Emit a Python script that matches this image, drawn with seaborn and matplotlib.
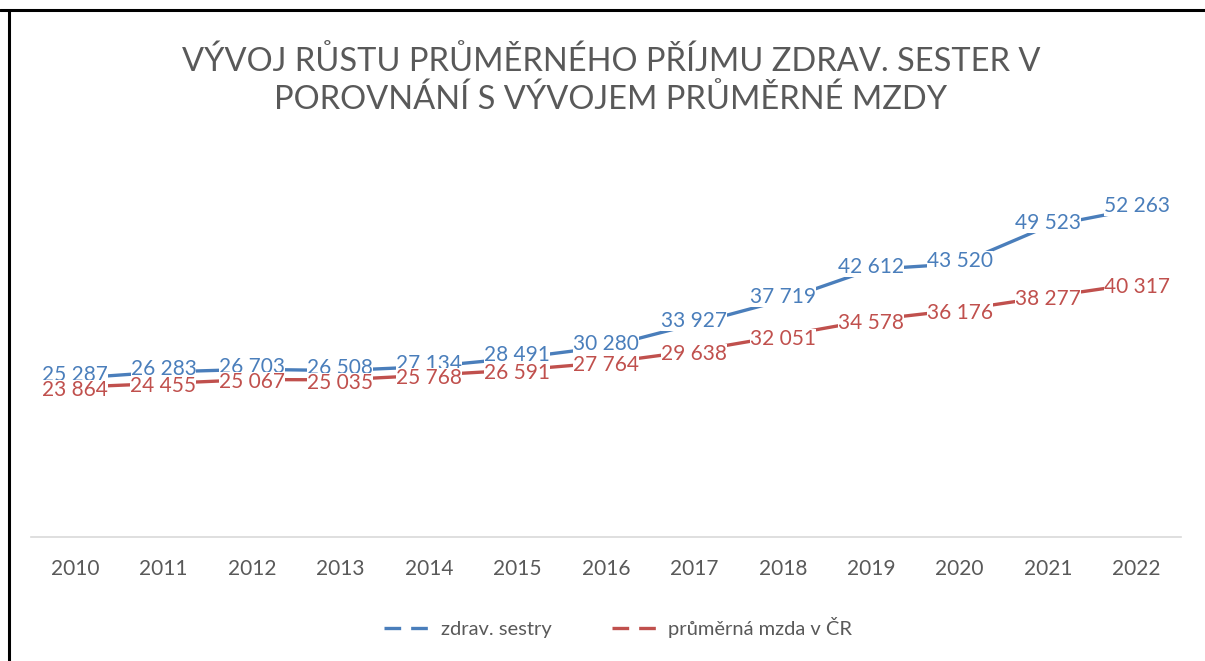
import matplotlib.pyplot as plt
import pandas as pd
import seaborn as sns
from matplotlib.lines import Line2D

sns.set_theme(style='white')
plt.rcParams['font.family'] = ['Lato', 'DejaVu Sans']

years = [2010, 2011, 2012, 2013, 2014, 2015, 2016, 2017, 2018, 2019, 2020, 2021, 2022]
sestry = [25287, 26283, 26703, 26508, 27134, 28491, 30280, 33927, 37719, 42612, 43520, 49523, 52263]
mzda = [23864, 24455, 25067, 25035, 25768, 26591, 27764, 29638, 32051, 34578, 36176, 38277, 40317]
series_names = ['zdrav. sestry', 'průměrná mzda v ČR']
colors = ['#4a7ebb', '#c0504d']

df = pd.DataFrame({'year': years * 2,
                   'value': sestry + mzda,
                   'serie': [series_names[0]] * len(years) + [series_names[1]] * len(years)})

fig = plt.figure(figsize=(12.05, 6.61), dpi=100)
ax = fig.add_axes([0.0255, 0.1876, 0.9545, 0.570])

sns.lineplot(data=df, x='year', y='value', hue='serie', palette=colors,
             linewidth=2.4, ax=ax, legend=False, zorder=2)

# data labels centered on points like Excel, white box cuts the line;
# blue nudged a bit up and red a bit down so the crowded ones stay readable
for vals, c, dy in zip([sestry, mzda], colors, [2, -2]):
    for x, v in zip(years, vals):
        lab = f'{v:,}'.replace(',', ' ')
        ax.annotate(lab, (x, v), xytext=(0, dy), textcoords='offset points',
                    ha='center', va='center', fontsize=15, color=c, zorder=3,
                    bbox=dict(boxstyle='square,pad=0.0', fc='white', ec='none'))

ax.set_xlim(2009.5, 2022.5)
ax.set_ylim(0, 60000)
ax.set_xticks(years)
ax.set_xticklabels([str(y) for y in years], fontsize=15, color='#595959')
ax.set_yticks([])
ax.set_xlabel('')
ax.set_ylabel('')
ax.tick_params(axis='x', length=0, pad=16)
for s in ['top', 'right', 'left']:
    ax.spines[s].set_visible(False)
ax.spines['bottom'].set_color('#d9d9d9')
ax.spines['bottom'].set_linewidth(1.2)

fig.text(0.507, 0.878, 'VÝVOJ RŮSTU PRŮMĚRNÉHO PŘÍJMU ZDRAV. SESTER V\nPOROVNÁNÍ S VÝVOJEM PRŮMĚRNÉ MZDY',
         ha='center', va='center', fontsize=23.5, color='#595959', linespacing=1.3)

handles = [Line2D([0], [0], color=c, lw=2.4, linestyle=(0, (5, 3))) for c in colors]
fig.legend(handles, series_names, loc='center', bbox_to_anchor=(0.513, 0.05), ncol=2,
           frameon=False, fontsize=14.5, labelcolor='#595959', handlelength=2.6,
           handletextpad=0.2, columnspacing=3)

# scanned frame on top and left
fig.add_artist(Line2D([0, 1], [0.985, 0.985], transform=fig.transFigure, color='black', lw=2.2))
fig.add_artist(Line2D([0.0075, 0.0075], [0, 0.985], transform=fig.transFigure, color='black', lw=2.2))

fig.savefig('out.png', dpi=100, facecolor='white')
